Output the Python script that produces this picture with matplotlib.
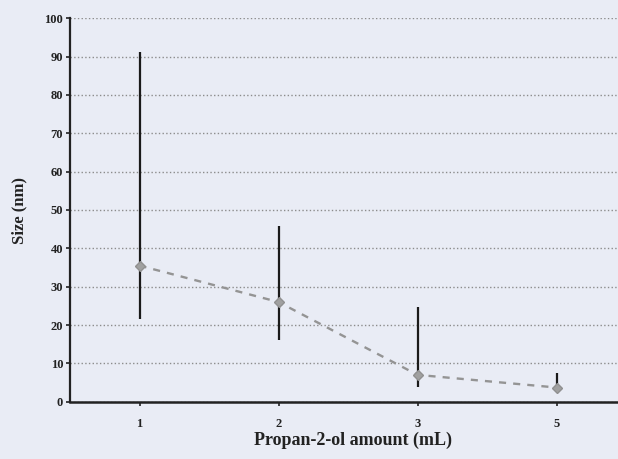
import matplotlib.pyplot as plt
import numpy as np

# propan-2-ol amount categories and measured particle sizes
categories = ['1', '2', '3', '5']
size_mean = [35.5, 26.0, 7.0, 3.7]
size_low = [21.5, 16.0, 3.8, 2.6]
size_high = [91.3, 45.8, 24.8, 7.6]
y_ticks = [0, 10, 20, 30, 40, 50, 60, 70, 80, 90, 100]

plt.rcParams['font.family'] = ['Liberation Serif', 'DejaVu Serif']
plt.rcParams['font.weight'] = 'bold'

bg = '#e9ecf5'
fig = plt.figure(figsize=(6.18, 4.59), dpi=100)
fig.patch.set_facecolor(bg)
# axes runs slightly past the right edge, like the cropped original
ax = fig.add_axes([70 / 618, 1 - 401.7 / 459, 556 / 618, 383.4 / 459])
ax.set_facecolor(bg)

x = np.arange(len(categories))
yerr = [np.array(size_mean) - np.array(size_low), np.array(size_high) - np.array(size_mean)]

# error bars first, then the dashed trend line with markers
ax.errorbar(x, size_mean, yerr=yerr, fmt='none', ecolor='#1a1a1a', elinewidth=1.6, capsize=0, zorder=3)
ax.plot(x, size_mean, linestyle=(0, (3, 3)), color='#949494', linewidth=1.7,
        marker='D', markersize=5, markerfacecolor='#a0a0a0', markeredgecolor='#909090', zorder=4)

ax.set_xlim(-0.5, len(categories) - 0.5)
ax.set_ylim(0, 100)
ax.set_yticks(y_ticks)
ax.set_xticks(x)
ax.set_xticklabels(categories)
ax.tick_params(axis='y', labelsize=9, length=3, width=1.2, direction='out', pad=2, colors='#222222')
ax.tick_params(axis='x', labelsize=9, length=3, width=1.2, direction='out', pad=9, colors='#222222')

ax.grid(axis='y', linestyle=':', color='#8c8c8c', linewidth=1.0)
ax.set_axisbelow(True)

ax.spines['top'].set_visible(False)
ax.spines['right'].set_visible(False)
ax.spines['left'].set_color('#222222')
ax.spines['left'].set_linewidth(1.6)
ax.spines['bottom'].set_color('#222222')
ax.spines['bottom'].set_linewidth(1.8)

ax.set_xlabel('Propan-2-ol amount (mL)', fontsize=13, fontweight='bold', color='#222222')
ax.set_ylabel('Size (nm)', fontsize=12, fontweight='bold', color='#222222')
ax.xaxis.set_label_coords(283 / 556, -(432 - 401.7) / 383.4)
ax.yaxis.set_label_coords(-(70 - 27) / 556, 0.5)

plt.savefig('out.png', dpi=100, facecolor=bg)
